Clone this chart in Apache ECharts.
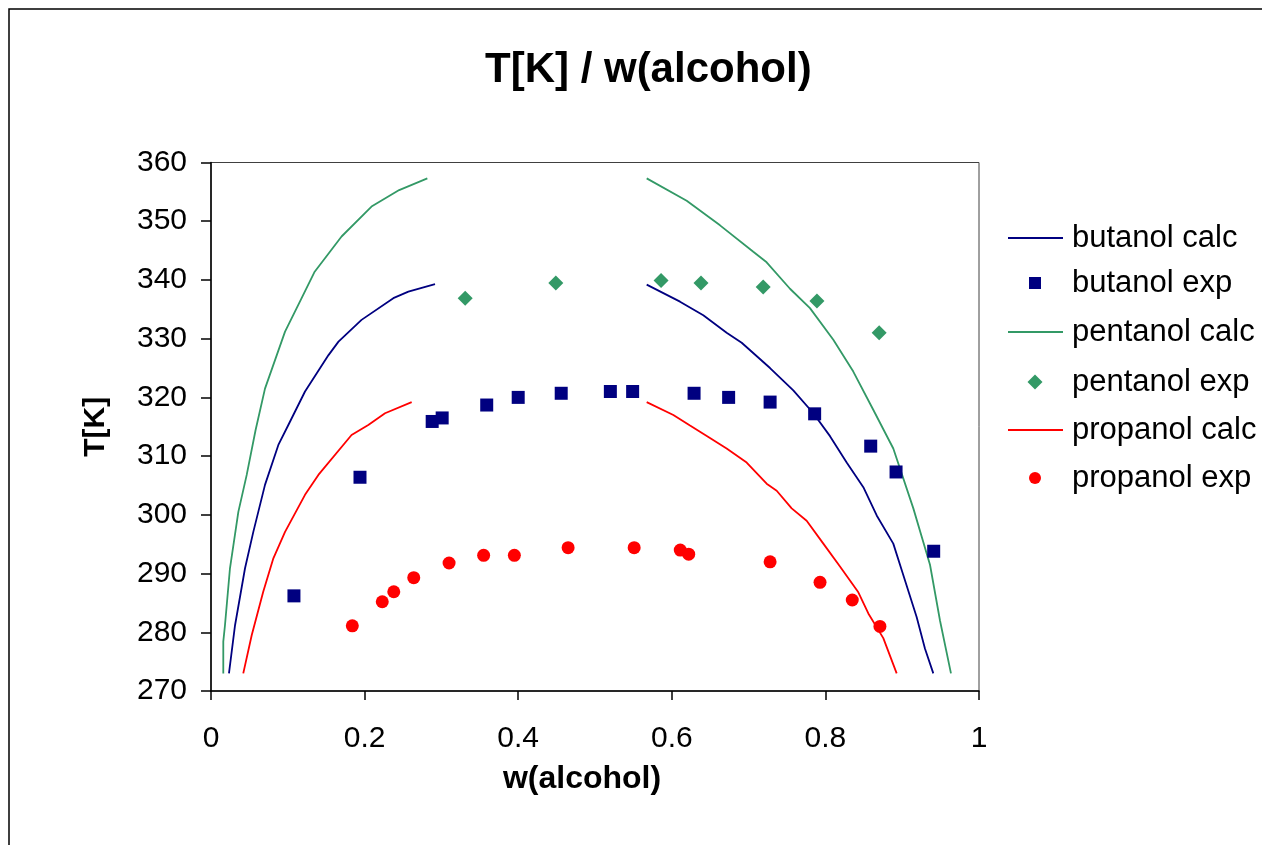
<!DOCTYPE html>
<html>
<head>
<meta charset="utf-8">
<title>T[K] / w(alcohol)</title>
<script src="https://cdn.jsdelivr.net/npm/echarts@6/dist/echarts.min.js"></script>
<style>
  html, body { margin: 0; padding: 0; background: #fff; }
  #chart { width: 1262px; height: 845px; }
</style>
</head>
<body>
<div id="chart"></div>
<script>
// Liquid-liquid equilibrium: temperature vs alcohol weight fraction

const seriesNames = ['butanol calc', 'butanol exp', 'pentanol calc', 'pentanol exp', 'propanol calc', 'propanol exp'];
const xTicks = [0, 0.2, 0.4, 0.6, 0.8, 1];
const yTicks = [270, 280, 290, 300, 310, 320, 330, 340, 350, 360];

// calculated binodal branches [w, T]
const butanolCalcLeft = [[0.0234, 273.0], [0.0313, 281.2], [0.0443, 290.9], [0.0551, 297.1], [0.0703, 305.1], [0.0877, 311.9], [0.1007, 315.3], [0.1224, 321.0], [0.153, 327.2], [0.166, 329.5], [0.196, 333.2], [0.2374, 336.9], [0.257, 338.0], [0.2917, 339.3]];
const butanolCalcRight = [[0.5673, 339.2], [0.6107, 336.3], [0.641, 334.0], [0.6714, 331.0], [0.691, 329.3], [0.7279, 325.0], [0.7582, 321.2], [0.7843, 317.3], [0.806, 313.4], [0.8277, 308.9], [0.8494, 304.7], [0.8668, 299.9], [0.8884, 295.1], [0.9015, 289.7], [0.9188, 282.6], [0.9297, 277.2], [0.9405, 273.0]];

const pentanolCalcLeft = [[0.016, 273.0], [0.016, 278.4], [0.0182, 281.2], [0.0247, 290.9], [0.0356, 300.5], [0.0465, 306.8], [0.058, 314.4], [0.0703, 321.5], [0.0964, 331.2], [0.118, 336.9], [0.135, 341.4], [0.170, 347.4], [0.209, 352.5], [0.245, 355.3], [0.2817, 357.3]];
const pentanolCalcRight = [[0.5673, 357.3], [0.6194, 353.5], [0.6628, 349.3], [0.7061, 344.8], [0.7235, 343.0], [0.7539, 338.5], [0.7799, 335.2], [0.8103, 329.8], [0.8363, 324.4], [0.8623, 317.9], [0.8884, 311.3], [0.9145, 301.1], [0.9362, 291.5], [0.9492, 282.0], [0.9635, 273.0]];

const propanolCalcLeft = [[0.042, 273.0], [0.053, 279.5], [0.068, 286.9], [0.0812, 292.6], [0.0964, 297.1], [0.1224, 303.4], [0.1398, 306.8], [0.183, 313.6], [0.2048, 315.3], [0.2266, 317.3], [0.2613, 319.2]];
const propanolCalcRight = [[0.5673, 319.2], [0.602, 317.0], [0.6237, 315.2], [0.6497, 313.1], [0.6714, 311.3], [0.6975, 308.9], [0.7235, 305.3], [0.7366, 304.1], [0.7561, 301.1], [0.7756, 299.0], [0.7973, 295.1], [0.819, 291.2], [0.8429, 286.8], [0.8559, 283.2], [0.8754, 279.0], [0.8928, 273.0]];

// measured cloud points [w, T]
const butanolExp = [[0.108, 286.2], [0.194, 306.4], [0.288, 315.9], [0.301, 316.5], [0.359, 318.7], [0.400, 320.0], [0.456, 320.7], [0.520, 321.0], [0.549, 321.0], [0.629, 320.7], [0.674, 320.0], [0.728, 319.2], [0.786, 317.2], [0.859, 311.7], [0.892, 307.3], [0.941, 293.8]];
const pentanolExp = [[0.331, 336.9], [0.449, 339.5], [0.586, 339.9], [0.638, 339.5], [0.719, 338.8], [0.789, 336.4], [0.870, 331.0]];
const propanolExp = [[0.184, 281.1], [0.223, 285.2], [0.238, 286.9], [0.264, 289.3], [0.310, 291.8], [0.355, 293.1], [0.395, 293.1], [0.465, 294.4], [0.551, 294.4], [0.611, 294.0], [0.622, 293.3], [0.728, 292.0], [0.793, 288.5], [0.835, 285.5], [0.871, 281.0]];

const COLORS = { butanol: '#000080', pentanol: '#339966', propanol: '#ff0000' };
const FONT = '"Liberation Sans", Arial, sans-serif';

// left and right branches joined with a break so they draw as two pieces
function branches(left, right) {
  return left.concat([['-', '-']], right);
}

function calcSeries(name, color, data) {
  return {
    name, type: 'line', data, symbol: 'none', connectNulls: false,
    lineStyle: { color, width: 1.8 }, itemStyle: { color },
    animation: false, z: 2
  };
}
function expSeries(name, color, symbol, size, data) {
  return {
    name, type: 'scatter', data, symbol, symbolSize: size,
    itemStyle: { color, opacity: 1 }, animation: false, z: 3
  };
}

// one legend block per entry: line keys are long thin bars, marker keys are small symbols
const legendCenters = [238, 283, 332, 382, 430, 478];
const legendKeys = [
  { kind: 'line', icon: 'rect' },
  { kind: 'mark', icon: 'rect', size: 12 },
  { kind: 'line', icon: 'rect' },
  { kind: 'mark', icon: 'diamond', size: 15 },
  { kind: 'line', icon: 'rect' },
  { kind: 'mark', icon: 'circle', size: 12 }
];
const legends = seriesNames.map((name, i) => {
  const key = legendKeys[i];
  const isLine = key.kind === 'line';
  const w = isLine ? 55 : key.size;
  const h = isLine ? 2 : key.size;
  const iconLeft = isLine ? 1008 : 1035 - key.size / 2;
  const textPad = 1072 - (iconLeft + w + 5);
  return {
    orient: 'vertical', left: iconLeft, top: legendCenters[i] - 17,
    itemWidth: w, itemHeight: h, padding: 0,
    data: [{ name, icon: key.icon }],
    textStyle: { fontFamily: FONT, fontSize: 31, color: '#000', lineHeight: 34, padding: [0, 0, 0, textPad] },
    selectedMode: false
  };
});

const chart = echarts.init(document.getElementById('chart'), null, { renderer: 'canvas' });

chart.setOption({
  backgroundColor: '#ffffff',
  animation: false,
  title: {
    text: 'T[K] / w(alcohol)',
    left: 480, top: 44,
    textStyle: { fontFamily: FONT, fontWeight: 'bold', fontSize: 42, color: '#000' }
  },
  graphic: [{
    type: 'rect', silent: true,
    shape: { x: 9, y: 9, width: 1300, height: 900 },
    style: { fill: 'none', stroke: '#000', lineWidth: 1.5 }
  }],
  legend: legends,
  grid: {
    left: 211, top: 162.5, right: 283, bottom: 154,
    show: true, borderColor: '#404040', borderWidth: 1, containLabel: false
  },
  xAxis: {
    type: 'value', min: xTicks[0], max: xTicks[xTicks.length - 1], interval: 0.2,
    name: 'w(alcohol)', nameLocation: 'middle', nameGap: 72,
    nameTextStyle: { fontFamily: FONT, fontWeight: 'bold', fontSize: 32, color: '#000', padding: [0, 26, 0, 0] },
    axisLine: { lineStyle: { color: '#000', width: 1.5 } },
    axisTick: { show: true, inside: false, length: 9, lineStyle: { color: '#000', width: 1.5 } },
    axisLabel: { fontFamily: FONT, fontSize: 30, color: '#000', margin: 33,
      formatter: v => String(Math.round(v * 10) / 10) },
    splitLine: { show: false }
  },
  yAxis: {
    type: 'value', min: yTicks[0], max: yTicks[yTicks.length - 1], interval: 10,
    name: 'T[K]', nameLocation: 'middle', nameGap: 100, nameRotate: 90,
    nameTextStyle: { fontFamily: FONT, fontWeight: 'bold', fontSize: 30, color: '#000' },
    axisLine: { lineStyle: { color: '#000', width: 1.5 } },
    axisTick: { show: true, inside: false, length: 10, lineStyle: { color: '#000', width: 1.5 } },
    axisLabel: { fontFamily: FONT, fontSize: 30, color: '#000', margin: 24 },
    splitLine: { show: false }
  },
  series: [
    calcSeries(seriesNames[0], COLORS.butanol, branches(butanolCalcLeft, butanolCalcRight)),
    expSeries(seriesNames[1], COLORS.butanol, 'rect', 13, butanolExp),
    calcSeries(seriesNames[2], COLORS.pentanol, branches(pentanolCalcLeft, pentanolCalcRight)),
    expSeries(seriesNames[3], COLORS.pentanol, 'diamond', 15, pentanolExp),
    calcSeries(seriesNames[4], COLORS.propanol, branches(propanolCalcLeft, propanolCalcRight)),
    expSeries(seriesNames[5], COLORS.propanol, 'circle', 13, propanolExp)
  ]
});
</script>
</body>
</html>
